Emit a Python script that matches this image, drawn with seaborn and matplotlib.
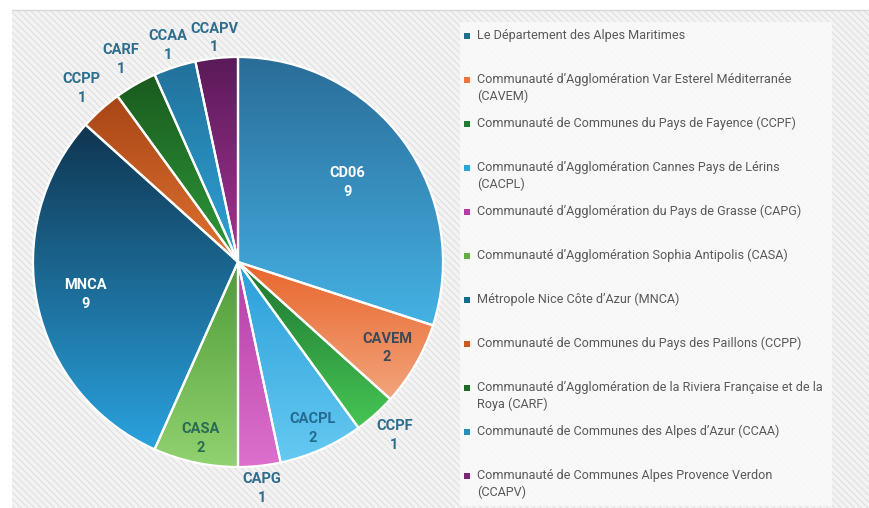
import numpy as np
import matplotlib
matplotlib.use("Agg")
import matplotlib.pyplot as plt
import seaborn as sns
from matplotlib.patches import Rectangle
from matplotlib.colors import LinearSegmentedColormap

sns.set_theme(style="white")
plt.rcParams["font.family"] = ["Roboto", "DejaVu Sans"]
plt.rcParams["hatch.linewidth"] = 0.6

# ---------------- data ----------------
codes = ["CD06", "CAVEM", "CCPF", "CACPL", "CAPG", "CASA", "MNCA",
         "CCPP", "CARF", "CCAA", "CCAPV"]
values = [9, 2, 1, 2, 1, 2, 9, 1, 1, 1, 1]
names = [
    "Le Département des Alpes Maritimes",
    "Communauté d’Agglomération Var Esterel Méditerranée\n(CAVEM)",
    "Communauté de Communes du Pays de Fayence (CCPF)",
    "Communauté d’Agglomération Cannes Pays de Lérins\n(CACPL)",
    "Communauté d’Agglomération du Pays de Grasse (CAPG)",
    "Communauté d’Agglomération Sophia Antipolis (CASA)",
    "Métropole Nice Côte d’Azur (MNCA)",
    "Communauté de Communes du Pays des Paillons (CCPP)",
    "Communauté d’Agglomération de la Riviera Française et de la\nRoya (CARF)",
    "Communauté de Communes des Alpes d’Azur (CCAA)",
    "Communauté de Communes Alpes Provence Verdon\n(CCAPV)",
]

# ---------------- styles ----------------
top_colors = ["#2a6c98", "#e8662c", "#1d7430", "#2a9ed8", "#b43ea6", "#4e9c38",
              "#0f3550", "#a84616", "#1a5a1e", "#22719a", "#5a1a58"]
bot_colors = ["#45b2e4", "#f2a47c", "#46c654", "#66caf2", "#dc70cc", "#92d270",
              "#2aa2de", "#e07232", "#2e9a3a", "#2ea4d8", "#a43494"]
marker_colors = ["#236f90", "#e9743c", "#1f7a30", "#2ea6dc", "#b03ea6", "#62b044",
                 "#176a8c", "#c85a22", "#1e6a26", "#2a8cb8", "#7a2672"]
label_r = [0.66, 0.84, 1.14, 0.89, 1.11, 0.88, 0.76, 1.14, 1.14, 1.11, 1.10]
label_colors = ["white", "#3b4a58", "#2e6d8e", "#246b92", "#2e6d8e", "#2b6a55",
                "white", "#2e6d8e", "#2e6d8e", "#2e6d8e", "#2e6d8e"]

W, H = 870, 508
fig = plt.figure(figsize=(W / 100, H / 100), dpi=100)
fig.patch.set_facecolor("white")

# background overlay axes in pixel coords
bgax = fig.add_axes([0, 0, 1, 1], zorder=0)
bgax.set_xlim(0, W)
bgax.set_ylim(H, 0)
bgax.axis("off")
bgax.add_patch(Rectangle((12, 10), W - 12, H - 10, facecolor="#f3f3f3",
                         edgecolor="#dadada", hatch="\\\\\\\\\\", lw=0))
bgax.plot([12, W], [10, 10], color="#d8d8d8", lw=1)
# legend panel
bgax.add_patch(Rectangle((460, 22), 372, 484, facecolor="#fafafa",
                         edgecolor="none", alpha=0.85))

# ---------------- pie ----------------
cx, cy, r = 238, 262, 205
ax = fig.add_axes([(cx - r) / W, (H - cy - r) / H, 2 * r / W, 2 * r / H], zorder=2)
wedges, _ = ax.pie(values, startangle=90, counterclock=False, radius=1,
                   wedgeprops=dict(linewidth=1.6, edgecolor="white"))
grad = np.linspace(0, 1, 256).reshape(-1, 1)
for i, w in enumerate(wedges):
    ext = w.get_path().get_extents()
    cmap = LinearSegmentedColormap.from_list(f"g{i}", [top_colors[i], bot_colors[i]])
    im = ax.imshow(grad, cmap=cmap, extent=(ext.x0, ext.x1, ext.y0, ext.y1),
                   origin="upper", aspect="auto", zorder=1, interpolation="bilinear")
    im.set_clip_path(w)
    w.set_facecolor("none")
    w.set_zorder(2)

total = sum(values)
start = 90.0
for i, v in enumerate(values):
    span = 360.0 * v / total
    mid = np.deg2rad(start - span / 2)
    start -= span
    x, y = label_r[i] * np.cos(mid), label_r[i] * np.sin(mid)
    ax.text(x, y, f"{codes[i]}\n{v}", ha="center", va="center", fontsize=10.5,
            fontweight="bold", color=label_colors[i], linespacing=1.4,
            zorder=5, clip_on=False)
ax.set_xlim(-1, 1)
ax.set_ylim(-1, 1)
ax.axis("off")

# ---------------- legend ----------------
lgax = fig.add_axes([0, 0, 1, 1], zorder=3)
lgax.set_xlim(0, W)
lgax.set_ylim(H, 0)
lgax.axis("off")
for i, nm in enumerate(names):
    yy = 36 + i * 44
    lgax.scatter([467], [yy], marker="s", s=22, color=marker_colors[i], linewidths=0)
    lgax.text(477, yy - 7, nm, ha="left", va="top", fontsize=9.1, color="#595959",
              linespacing=1.35)

fig.savefig("out.png", dpi=100, facecolor="white")
